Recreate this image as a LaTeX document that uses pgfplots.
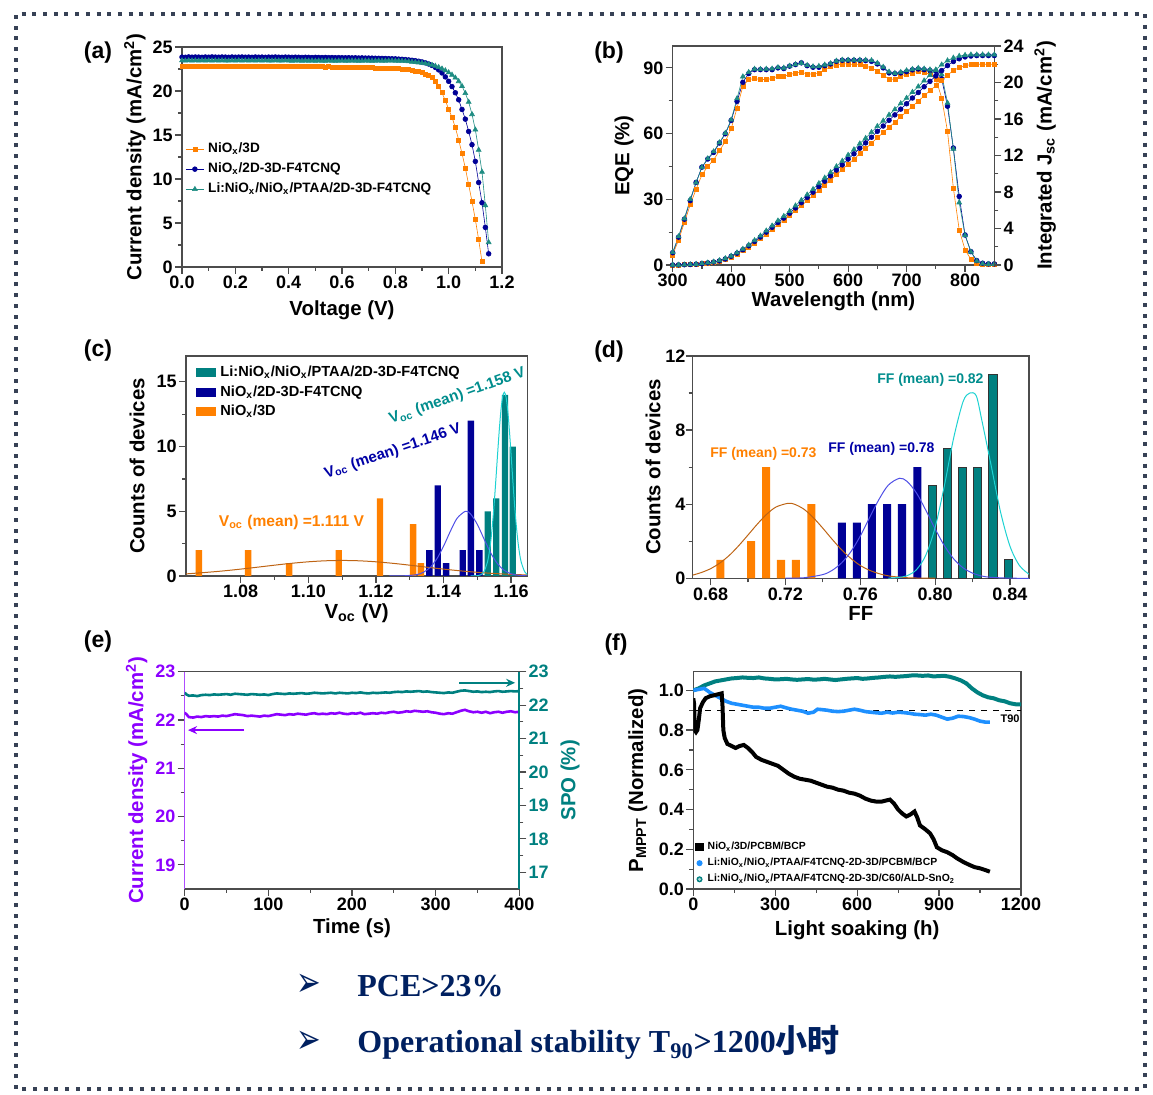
\documentclass[border=0pt]{standalone}
\usepackage{fontspec}
\setmainfont{Liberation Sans}
\newfontfamily\serifb{Liberation Serif}
\newfontfamily\cjk{Noto Sans CJK SC}
\newfontfamily\dejavu{DejaVu Sans}
\usepackage{pgfplots}
\usepackage{pgfplotstable}
\pgfplotsset{compat=1.18}
\usetikzlibrary{arrows.meta}

\definecolor{corange}{RGB}{255,128,0}
\definecolor{cnavy}{RGB}{0,0,150}
\definecolor{cteal}{RGB}{0,128,128}
\definecolor{ctealmk}{RGB}{30,140,130}
\definecolor{cbrown}{RGB}{190,100,20}
\definecolor{cblueline}{RGB}{80,80,230}
\definecolor{ccyan}{RGB}{30,210,210}
\definecolor{cpurple}{RGB}{140,0,255}
\definecolor{cblue}{RGB}{30,144,255}
\definecolor{cborder}{RGB}{55,65,85}
\definecolor{ctext}{RGB}{0,32,96}

\newcommand{\tsz}{\bfseries\fontsize{9}{10}\selectfont}
\newcommand{\lsz}{\bfseries\fontsize{10.2}{12}\selectfont}
\newcommand{\psz}{\bfseries\fontsize{11.5}{13}\selectfont}

\pgfplotsset{
  base/.style={scale only axis, anchor=south west,
    axis line style={black!70,line width=0.6pt},
    tick style={black!70,line width=0.6pt},
    tick align=outside, major tick length=3.5pt, minor tick length=2pt, minor tick num=1,
    tick label style={font=\tsz, inner sep=1pt}, label style={font=\lsz},
    /pgf/number format/assume math mode=true,
    /pgf/number format/set thousands separator={},
  },
  xlab/.style={xlabel style={at={(axis description cs:0.5,#1)}, anchor=center}},
  ylab/.style={ylabel style={at={(axis description cs:#1,0.5)}, anchor=center}},
  lmline/.style={legend image code/.code={\draw[mark repeat=2,mark phase=2,##1] plot coordinates {(0pt,0pt)(4.5pt,0pt)(9pt,0pt)};}},
}

\pgfplotstableread{
V O N T
0 22.80 23.85 23.46
0.0125 22.78 23.83 23.44
0.025 22.82 23.87 23.47
0.0375 22.80 23.84 23.45
0.05 22.79 23.86 23.46
0.0625 22.82 23.85 23.44
0.075 22.81 23.83 23.47
0.0875 22.79 23.86 23.45
0.1 22.82 23.84 23.46
0.1125 22.80 23.87 23.44
0.125 22.83 23.85 23.46
0.1375 22.81 23.84 23.45
0.15 22.79 23.86 23.47
0.1625 22.82 23.85 23.45
0.175 22.80 23.83 23.44
0.1875 22.81 23.86 23.46
0.2 22.79 23.84 23.45
0.2125 22.82 23.85 23.47
0.225 22.80 23.86 23.44
0.2375 22.78 23.84 23.46
0.25 22.81 23.85 23.45
0.2625 22.79 23.83 23.46
0.275 22.80 23.86 23.44
0.2875 22.82 23.84 23.46
0.3 22.79 23.85 23.45
0.3125 22.80 23.83 23.47
0.325 22.78 23.85 23.45
0.3375 22.81 23.84 23.44
0.35 22.80 23.86 23.46
0.3625 22.79 23.84 23.45
0.375 22.80 23.83 23.44
0.3875 22.78 23.85 23.46
0.4 22.79 23.84 23.45
0.4125 22.77 23.82 23.43
0.425 22.79 23.84 23.45
0.4375 22.78 23.83 23.44
0.45 22.76 23.81 23.43
0.4625 22.78 23.83 23.45
0.475 22.77 23.82 23.43
0.4875 22.76 23.80 23.44
0.5 22.77 23.82 23.42
0.5125 22.75 23.81 23.44
0.525 22.76 23.80 23.43
0.5375 22.74 23.81 23.42
0.55 22.75 23.79 23.44
0.5625 22.73 23.80 23.43
0.575 22.74 23.78 23.42
0.5875 22.72 23.79 23.43
0.6 22.73 23.78 23.44
0.6125 22.71 23.77 23.42
0.625 22.72 23.78 23.43
0.6375 22.70 23.76 23.44
0.65 22.70 23.77 23.43
0.6625 22.69 23.75 23.42
0.675 22.68 23.76 23.43
0.6875 22.67 23.74 23.44
0.7 22.66 23.74 23.43
0.7125 22.65 23.73 23.42
0.725 22.63 23.72 23.43
0.7375 22.62 23.71 23.44
0.75 22.61 23.70 23.43
0.7625 22.60 23.69 23.43
0.775 22.60 23.67 23.44
0.7875 22.59 23.66 23.44
0.8 22.58 23.65 23.43
0.8125 22.55 23.62 23.42
0.825 22.52 23.60 23.41
0.8375 22.47 23.57 23.38
0.85 22.42 23.53 23.35
0.8625 22.36 23.49 23.31
0.875 22.28 23.44 23.27
0.8875 22.20 23.38 23.23
0.9 22.10 23.30 23.18
0.9125 21.95 23.20 23.12
0.925 21.78 23.07 23.04
0.9375 21.50 22.90 22.95
0.95 21.05 22.68 22.84
0.9625 20.50 22.40 22.70
0.975 19.80 22.05 22.53
0.9875 18.90 21.60 22.33
1.0 17.95 21.10 22.10
1.0125 17.00 20.50 21.83
1.025 15.85 19.80 21.50
1.0375 14.45 19.00 21.10
1.05 12.90 17.90 20.55
1.0625 11.25 16.80 19.75
1.075 9.35 15.40 18.75
1.0875 7.45 13.90 17.35
1.1 5.40 12.00 15.60
1.1125 3.10 9.60 13.30
1.125 0.60 7.30 10.80
1.1375 nan 4.50 7.00
1.15 nan 1.50 2.80
}\jvtab

\pgfplotstableread{
wl eO eN eT jO jN jT
300 4.6 5.6 5.8 0 0 0
310 11.4 12.7 13.0 0.01 0.01 0.01
320 19.4 20.9 21.2 0.02 0.03 0.03
330 27.5 29.4 30.0 0.04 0.05 0.06
340 34.6 37.7 37.6 0.08 0.09 0.10
350 41.2 44.7 44.6 0.13 0.15 0.16
360 45.0 48.4 48.6 0.20 0.23 0.24
370 48.0 51.4 51.8 0.29 0.32 0.34
380 52.2 55.7 55.9 0.41 0.45 0.50
390 56.4 59.9 60.2 0.60 0.66 0.72
400 62.2 66.0 66.3 0.88 0.95 1.00
410 71.7 74.7 76.0 1.20 1.29 1.35
420 81.6 83.4 86.0 1.56 1.67 1.75
430 84.7 87.4 88.0 1.96 2.10 2.20
440 85.1 89.2 89.5 2.42 2.58 2.70
450 84.7 89.2 89.4 2.88 3.06 3.20
460 84.7 89.2 89.5 3.40 3.60 3.75
470 85.1 89.2 89.6 3.90 4.13 4.30
480 86.2 90.0 90.2 4.42 4.66 4.85
490 86.2 89.7 90.0 4.90 5.14 5.35
500 86.9 90.8 90.9 5.40 5.67 5.90
510 87.7 91.5 91.6 5.95 6.25 6.50
520 88.0 92.3 92.2 6.50 6.83 7.10
530 87.2 91.0 91.2 7.05 7.40 7.70
540 87.2 90.3 90.6 7.60 7.98 8.30
550 87.7 90.3 90.8 8.20 8.60 8.95
560 89.2 91.0 91.4 8.75 9.18 9.55
570 90.5 91.8 92.0 9.30 9.77 10.15
580 91.2 93.0 93.2 9.90 10.40 10.80
590 91.8 93.5 93.6 10.45 10.97 11.40
600 91.8 93.5 93.6 11.05 11.60 12.05
610 91.5 93.5 93.6 11.60 12.18 12.65
620 91.5 93.5 93.6 12.20 12.80 13.30
630 90.8 93.3 93.6 12.75 13.38 13.90
640 90.0 93.0 93.4 13.35 14.00 14.55
650 88.5 91.8 92.2 13.95 14.65 15.20
660 86.6 90.0 90.4 14.50 15.23 15.80
670 85.0 87.7 88.2 15.10 15.86 16.45
680 84.7 87.4 87.6 15.65 16.45 17.05
690 86.2 87.7 88.0 16.25 17.08 17.70
700 87.2 88.3 88.8 16.80 17.67 18.30
710 87.7 89.1 89.4 17.40 18.30 18.95
720 88.5 89.5 89.9 17.95 18.90 19.55
730 88.2 89.2 89.6 18.55 19.53 20.20
740 86.9 88.8 89.2 19.10 20.12 20.80
750 85.0 88.5 88.9 19.65 20.72 21.40
760 76.3 85.0 87.0 20.25 21.30 21.95
770 61.0 72.5 74.0 20.80 21.85 22.40
780 35.1 53.4 53.0 21.30 22.30 22.70
790 16.0 31.3 28.5 21.65 22.60 22.90
800 6.9 13.7 13.5 21.85 22.80 23.00
810 2.6 6.1 6.0 21.95 22.90 23.05
820 0.8 2.0 1.8 22.00 22.95 23.05
830 0.3 0.8 0.6 22.00 22.95 23.05
840 0.2 0.5 0.4 22.00 22.95 23.05
850 0.2 0.5 0.4 22.00 22.95 23.05
}\eqetab

\begin{document}
\begin{tikzpicture}
\path[use as bounding box] (0pt,0pt) rectangle (576.5pt,547.5pt);
\draw[cborder, line width=2pt, dash pattern=on 2pt off 3.35pt] (8pt,3pt) rectangle (572.5pt,540.5pt);

% ---------- (a)
\begin{axis}[base, at={(91pt,414pt)}, width=160pt, height=110pt,
  xmin=0, xmax=1.2, ymin=0, ymax=25,
  xtick={0,0.2,0.4,0.6,0.8,1.0,1.2}, ytick={0,5,10,15,20,25},
  xticklabel style={/pgf/number format/fixed,/pgf/number format/fixed zerofill,/pgf/number format/precision=1},
  xtick pos=left, ytick pos=left, xlab=-0.195, ylab=-0.147,
  xlabel={Voltage (V)}, ylabel={Current density (mA/cm\textsuperscript{2})},
  lmline, legend cell align=left,
  legend style={at={(0.01,0.585)}, anchor=north west, draw=none, fill=none,
    font=\bfseries\fontsize{6.8}{8}\selectfont, inner sep=0pt, row sep=-0.4pt}]
\addplot[corange, line width=0.3pt, mark=square*, mark size=1pt, mark options={solid}] table[x=V,y=O]{\jvtab};
\addlegendentry{NiO\textsubscript{x}/3D}
\addplot[cnavy, line width=0.3pt, mark=*, mark size=1.2pt] table[x=V,y=N]{\jvtab};
\addlegendentry{NiO\textsubscript{x}/2D-3D-F4TCNQ}
\addplot[ctealmk, line width=0.3pt, mark=triangle*, mark size=1.4pt] table[x=V,y=T]{\jvtab};
\addlegendentry{Li:NiO\textsubscript{x}/NiO\textsubscript{x}/PTAA/2D-3D-F4TCNQ}
\end{axis}

% ---------- (b)
\begin{axis}[base, at={(336.35pt,415pt)}, width=160.8pt, height=109.5pt,
  xmin=300, xmax=850, ymin=0, ymax=100,
  xtick={300,400,500,600,700,800}, ytick={0,30,60,90},
  xtick pos=left, ytick pos=left, xlab=-0.167, ylab=-0.151,
  xlabel={Wavelength (nm)}, ylabel={EQE (\%)}]
\addplot[corange, line width=0.3pt, mark=square*, mark size=1pt] table[x=wl,y=eO]{\eqetab};
\addplot[cnavy, line width=0.3pt, mark=*, mark size=1.2pt] table[x=wl,y=eN]{\eqetab};
\addplot[ctealmk, line width=0.3pt, mark=triangle*, mark size=1.4pt] table[x=wl,y=eT]{\eqetab};
\end{axis}
\begin{axis}[base, at={(336.35pt,415pt)}, width=160.8pt, height=109.5pt,
  xmin=300, xmax=850, ymin=0, ymax=24, hide x axis,
  axis y line*=right, ytick={0,4,8,12,16,20,24}, ylab=1.158,
  ylabel={Integrated J\textsubscript{sc} (mA/cm\textsuperscript{2})}]
\addplot[corange, line width=0.3pt, mark=square*, mark size=1pt] table[x=wl,y=jO]{\eqetab};
\addplot[cnavy, line width=0.3pt, mark=*, mark size=1.2pt] table[x=wl,y=jN]{\eqetab};
\addplot[ctealmk, line width=0.3pt, mark=triangle*, mark size=1.4pt] table[x=wl,y=jT]{\eqetab};
\end{axis}

% ---------- (c)
\begin{axis}[base, at={(93pt,259.5pt)}, width=170.65pt, height=110pt,
  xmin=1.0638, xmax=1.1648, ymin=0, ymax=17,
  xtick={1.08,1.10,1.12,1.14,1.16}, ytick={0,5,10,15},
  xticklabel style={/pgf/number format/fixed,/pgf/number format/fixed zerofill,/pgf/number format/precision=2},
  xtick pos=left, ytick pos=left, xlab=-0.168, ylab=-0.1436,
  xlabel={V\textsubscript{oc} (V)}, ylabel={Counts of devices},
  reverse legend, legend cell align=left,
  legend style={at={(0.027,0.975)}, anchor=north west, draw=none, fill=none,
    font=\bfseries\fontsize{7.3}{8.5}\selectfont, inner sep=0pt, row sep=-1pt}]
\addplot[ybar, bar width=0.0019, bar shift=0pt, fill=corange, draw=none,
  legend image code/.code={\fill[corange] (0pt,-2.2pt) rectangle (10.4pt,2.2pt);}]
  coordinates {(1.0676,2)(1.0822,2)(1.0943,1)(1.1090,2)(1.1212,6)(1.1310,4)(1.1333,1)};
\addlegendentry{NiO\textsubscript{x}/3D}
\addplot[ybar, bar width=0.0019, bar shift=0pt, fill=cnavy, draw=none,
  legend image code/.code={\fill[cnavy] (0pt,-2.2pt) rectangle (10.4pt,2.2pt);}]
  coordinates {(1.1358,2)(1.1383,7)(1.1408,1)(1.1457,2)(1.1481,12)(1.1506,2)};
\addlegendentry{NiO\textsubscript{x}/2D-3D-F4TCNQ}
\addplot[ybar, bar width=0.0019, bar shift=0pt, fill=cteal, draw=none,
  legend image code/.code={\fill[cteal] (0pt,-2.2pt) rectangle (10.4pt,2.2pt);}]
  coordinates {(1.1531,5)(1.1556,6)(1.1582,14)(1.1605,10)};
\addlegendentry{Li:NiO\textsubscript{x}/NiO\textsubscript{x}/PTAA/2D-3D-F4TCNQ}
\addplot[cbrown, line width=0.5pt, smooth, forget plot] coordinates {
(1.0638,0.16)(1.070,0.282)(1.075,0.396)(1.080,0.531)(1.085,0.681)(1.090,0.835)(1.095,0.979)(1.100,1.096)(1.105,1.173)(1.110,1.2)(1.115,1.173)(1.120,1.096)(1.125,0.979)(1.130,0.835)(1.135,0.681)(1.140,0.531)(1.145,0.396)(1.150,0.282)(1.155,0.192)(1.160,0.125)(1.1648,0.079)};
\addplot[cblueline, line width=0.5pt, smooth, forget plot] coordinates {
(1.124,0)(1.128,0.009)(1.132,0.10)(1.134,0.28)(1.136,0.65)(1.138,1.31)(1.140,2.29)(1.142,3.44)(1.144,4.45)(1.1465,5.0)(1.148,4.80)(1.150,3.99)(1.152,2.86)(1.154,1.77)(1.156,0.94)(1.158,0.43)(1.160,0.17)(1.162,0.06)(1.1648,0.01)};
\addplot[ccyan, line width=0.5pt, smooth, forget plot] coordinates {
(1.148,0)(1.150,0.02)(1.151,0.09)(1.152,0.34)(1.153,1.07)(1.1535,1.75)(1.154,2.72)(1.1545,4.01)(1.155,5.60)(1.1555,7.45)(1.156,9.39)(1.1565,11.25)(1.157,12.81)(1.1575,13.84)(1.158,14.2)(1.1585,13.84)(1.159,12.81)(1.1595,11.25)(1.160,9.39)(1.1605,7.45)(1.161,5.60)(1.1615,4.01)(1.162,2.72)(1.1625,1.75)(1.163,1.07)(1.164,0.34)(1.1648,0.12)};
\node[text=corange, font=\bfseries\fontsize{7.8}{9}\selectfont] at (axis cs:1.095,4.17) {V\textsubscript{oc} (mean) =1.111 V};
\node[text=cnavy!85!blue, font=\bfseries\fontsize{7.6}{9}\selectfont, rotate=18.6] at (axis cs:1.1250,9.6) {V\textsubscript{oc} (mean) =1.146 V};
\node[text=cteal!90!cyan, font=\bfseries\fontsize{7.6}{9}\selectfont, rotate=19.5] at (axis cs:1.1441,13.9) {V\textsubscript{oc} (mean) =1.158 V};
\end{axis}

% ---------- (d)
\begin{axis}[base, at={(346.35pt,258.35pt)}, width=168.15pt, height=111.15pt,
  xmin=0.6704, xmax=0.8502, ymin=0, ymax=12,
  xtick={0.68,0.72,0.76,0.80,0.84}, ytick={0,4,8,12},
  xticklabel style={/pgf/number format/fixed,/pgf/number format/fixed zerofill,/pgf/number format/precision=2},
  yticklabel style={inner sep=0pt},
  xtick pos=left, ytick pos=left, xlab=-0.158, ylab=-0.118,
  xlabel={FF}, ylabel={Counts of devices}]
\addplot[ybar, bar width=0.0043, bar shift=0pt, fill=corange, draw=none]
  coordinates {(0.6852,1)(0.7016,2)(0.7096,6)(0.7176,1)(0.7256,1)(0.7338,4)};
\addplot[ybar, bar width=0.0043, bar shift=0pt, fill=cnavy, draw=none]
  coordinates {(0.7502,3)(0.7582,3)(0.7662,4)(0.7743,4)(0.7823,4)(0.7905,6)};
\addplot[ybar, bar width=0.0043, bar shift=0pt, fill=cteal, draw=black!80, line width=0.4pt]
  coordinates {(0.7985,5)(0.8065,7)(0.8147,6)(0.8227,6)(0.8309,11)(0.8391,1)};
\addplot[cbrown, line width=0.5pt, smooth] coordinates {
(0.6704,0.17)(0.675,0.31)(0.680,0.52)(0.685,0.83)(0.690,1.24)(0.695,1.76)(0.700,2.34)(0.705,2.93)(0.710,3.46)(0.715,3.85)(0.7215,4.05)(0.725,3.99)(0.730,3.72)(0.735,3.26)(0.740,2.70)(0.745,2.10)(0.750,1.54)(0.755,1.07)(0.760,0.69)(0.765,0.43)(0.770,0.25)(0.775,0.13)(0.780,0.07)(0.785,0.03)(0.790,0.015)(0.800,0.002)};
\addplot[cblueline, line width=0.5pt, smooth] coordinates {
(0.720,0.004)(0.730,0.03)(0.740,0.20)(0.745,0.43)(0.750,0.83)(0.755,1.44)(0.760,2.28)(0.765,3.28)(0.770,4.26)(0.775,5.03)(0.781,5.4)(0.785,5.23)(0.790,4.61)(0.795,3.68)(0.800,2.67)(0.805,1.75)(0.810,1.04)(0.815,0.56)(0.820,0.28)(0.825,0.12)(0.830,0.05)(0.840,0.006)(0.8502,0)};
\addplot[ccyan, line width=0.5pt, smooth] coordinates {
(0.775,0.01)(0.780,0.04)(0.785,0.14)(0.790,0.46)(0.795,1.24)(0.800,2.74)(0.805,5.02)(0.810,7.61)(0.815,9.55)(0.8185,10)(0.822,9.85)(0.825,8.52)(0.830,6.07)(0.835,3.57)(0.840,1.74)(0.845,0.70)(0.8502,0.22)};
\node[text=corange, font=\bfseries\fontsize{7}{8}\selectfont] at (axis cs:0.7082,6.69) {FF (mean) =0.73};
\node[text=cnavy!85!blue, font=\bfseries\fontsize{7}{8}\selectfont] at (axis cs:0.7713,6.98) {FF (mean) =0.78};
\node[text=cteal!90!cyan, font=\bfseries\fontsize{7}{8}\selectfont] at (axis cs:0.7975,10.7) {FF (mean) =0.82};
\end{axis}

% ---------- (e)
\begin{axis}[base, at={(92.35pt,103pt)}, width=167.3pt, height=108.65pt,
  xmin=0, xmax=400, ymin=18.5, ymax=23,
  xtick={0,100,200,300,400}, ytick={19,20,21,22,23},
  axis x line*=box, axis y line*=left, xtick pos=left,
  y axis line style={cpurple!70, line width=0.8pt},
  yticklabel style={text=cpurple}, ylabel style={text=cpurple},
  xlab=-0.18, ylab=-0.1435,
  xlabel={Time (s)}, ylabel={Current density (mA/cm\textsuperscript{2})}]
\addplot[cpurple, line width=1.3pt] coordinates {
(0,22.15)(2,22.12)(5,22.06)(10,22.05)(15,22.07)(20,22.06)(25,22.08)(30,22.07)(35,22.08)(40,22.07)(45,22.09)(50,22.08)(55,22.10)(60,22.12)(65,22.11)(70,22.10)(75,22.08)(80,22.09)(85,22.08)(90,22.07)(95,22.09)(100,22.08)(105,22.10)(110,22.12)(115,22.11)(120,22.10)(125,22.12)(130,22.11)(135,22.13)(140,22.12)(145,22.11)(150,22.13)(155,22.14)(160,22.12)(165,22.13)(170,22.12)(175,22.14)(180,22.13)(185,22.15)(190,22.13)(195,22.12)(200,22.14)(205,22.13)(210,22.15)(215,22.12)(220,22.13)(225,22.14)(230,22.13)(235,22.15)(240,22.14)(245,22.16)(250,22.17)(255,22.15)(260,22.16)(265,22.18)(270,22.17)(275,22.19)(280,22.18)(285,22.17)(290,22.18)(295,22.16)(300,22.15)(305,22.13)(310,22.12)(315,22.14)(320,22.13)(325,22.16)(330,22.19)(335,22.21)(340,22.18)(345,22.16)(350,22.17)(355,22.15)(360,22.17)(365,22.14)(370,22.16)(375,22.17)(380,22.15)(385,22.17)(390,22.18)(395,22.16)(400,22.17)};
\draw[cpurple, line width=1pt, -{Stealth[length=4.5pt,width=4pt]}] (axis cs:71,21.79) -- (axis cs:4,21.79);
\draw[cteal, line width=1pt, -{Stealth[length=4.5pt,width=4pt]}] (axis cs:328,22.77) -- (axis cs:395,22.77);
\end{axis}
\begin{axis}[base, at={(92.35pt,103pt)}, width=167.3pt, height=108.65pt,
  xmin=0, xmax=400, ymin=16.5, ymax=23, hide x axis,
  axis y line*=right, ytick={17,18,19,20,21,22,23},
  y axis line style={cteal, line width=0.8pt},
  yticklabel style={text=cteal}, ylabel style={text=cteal}, ylab=1.1515,
  ylabel={SPO (\%)}]
\addplot[cteal, line width=1.3pt] coordinates {
(0,22.37)(2,22.32)(5,22.28)(10,22.29)(15,22.27)(20,22.30)(25,22.31)(30,22.30)(35,22.32)(40,22.31)(45,22.32)(50,22.33)(55,22.31)(60,22.34)(65,22.33)(70,22.32)(75,22.31)(80,22.33)(85,22.32)(90,22.31)(95,22.32)(100,22.30)(105,22.33)(110,22.35)(115,22.34)(120,22.33)(125,22.35)(130,22.34)(135,22.35)(140,22.36)(145,22.34)(150,22.35)(155,22.37)(160,22.36)(165,22.35)(170,22.36)(175,22.37)(180,22.35)(185,22.37)(190,22.36)(195,22.35)(200,22.37)(205,22.36)(210,22.38)(215,22.36)(220,22.35)(225,22.37)(230,22.36)(235,22.37)(240,22.38)(245,22.37)(250,22.39)(255,22.40)(260,22.39)(265,22.41)(270,22.40)(275,22.41)(280,22.42)(285,22.40)(290,22.41)(295,22.39)(300,22.38)(305,22.37)(310,22.36)(315,22.38)(320,22.37)(325,22.40)(330,22.43)(335,22.44)(340,22.42)(345,22.40)(350,22.41)(355,22.39)(360,22.40)(365,22.39)(370,22.41)(375,22.42)(380,22.40)(385,22.41)(390,22.42)(395,22.41)(400,22.42)};
\end{axis}

% ---------- (f)
\begin{axis}[base, at={(346.65pt,103pt)}, width=163.85pt, height=108.65pt,
  xmin=0, xmax=1200, ymin=0, ymax=1.094,
  xtick={0,300,600,900,1200}, ytick={0,0.2,0.4,0.6,0.8,1.0},
  yticklabel style={/pgf/number format/fixed,/pgf/number format/fixed zerofill,/pgf/number format/precision=1},
  xtick pos=left, ytick pos=left, xlab=-0.19, ylab=-0.169,
  xlabel={Light soaking (h)}, ylabel={P\textsubscript{MPPT} (Normalized)},
  legend cell align=left,
  legend style={at={(0.005,0.0)}, anchor=south west, draw=none, fill=none,
    font=\bfseries\fontsize{5.2}{6}\selectfont, inner sep=0pt, row sep=-1.2pt}]
\addplot[black, dashed, line width=0.5pt, forget plot] coordinates {(0,0.9)(1200,0.9)};
\addplot[cteal, line width=2pt, forget plot] coordinates {
(0,1.0)(20,1.01)(40,1.025)(60,1.035)(80,1.045)(100,1.05)(120,1.055)(140,1.06)(160,1.062)(180,1.065)(200,1.063)(220,1.062)(240,1.065)(260,1.06)(280,1.058)(300,1.055)(320,1.056)(340,1.058)(360,1.055)(380,1.053)(400,1.055)(420,1.057)(440,1.054)(460,1.055)(480,1.058)(500,1.055)(520,1.052)(540,1.055)(560,1.058)(580,1.06)(600,1.062)(620,1.058)(640,1.06)(660,1.063)(680,1.065)(700,1.068)(720,1.07)(740,1.068)(760,1.07)(780,1.072)(800,1.075)(820,1.075)(840,1.073)(860,1.075)(880,1.07)(900,1.072)(920,1.073)(940,1.068)(960,1.06)(980,1.05)(1000,1.035)(1020,1.01)(1040,0.99)(1060,0.975)(1080,0.965)(1100,0.96)(1120,0.95)(1140,0.945)(1160,0.935)(1180,0.93)(1200,0.93)};
\addplot[cblue, line width=1.8pt, forget plot] coordinates {
(0,1.0)(20,1.005)(40,1.01)(60,0.99)(80,0.975)(100,0.96)(120,0.945)(140,0.935)(160,0.93)(180,0.925)(200,0.92)(220,0.915)(240,0.915)(260,0.91)(280,0.91)(300,0.915)(320,0.92)(340,0.912)(360,0.905)(380,0.9)(400,0.895)(420,0.885)(440,0.89)(455,0.905)(470,0.903)(490,0.9)(510,0.895)(530,0.893)(550,0.895)(570,0.9)(590,0.905)(610,0.9)(630,0.893)(650,0.89)(670,0.887)(690,0.885)(710,0.89)(730,0.886)(750,0.89)(770,0.888)(790,0.885)(810,0.88)(830,0.878)(850,0.875)(870,0.88)(890,0.875)(910,0.865)(930,0.855)(950,0.86)(970,0.87)(990,0.868)(1010,0.863)(1030,0.855)(1050,0.845)(1070,0.84)(1086,0.84)};
\addplot[black, line width=2pt,
  legend image code/.code={\fill[black] (-1.1pt,-1.1pt) rectangle (1.1pt,1.1pt);}] coordinates {
(0,0.96)(3,0.93)(5,0.80)(10,0.79)(15,0.80)(20,0.85)(25,0.91)(35,0.94)(45,0.96)(60,0.97)(75,0.975)(90,0.98)(104,0.985)(107,0.92)(110,0.80)(115,0.76)(125,0.73)(140,0.72)(155,0.71)(170,0.72)(185,0.725)(200,0.71)(215,0.69)(230,0.665)(250,0.65)(270,0.64)(290,0.63)(310,0.62)(330,0.6)(350,0.58)(370,0.565)(390,0.555)(410,0.55)(430,0.545)(450,0.535)(470,0.525)(490,0.515)(510,0.51)(530,0.5)(550,0.495)(570,0.485)(590,0.48)(610,0.47)(630,0.455)(650,0.445)(670,0.44)(690,0.44)(705,0.445)(720,0.45)(735,0.43)(750,0.40)(765,0.38)(780,0.365)(795,0.375)(810,0.39)(820,0.36)(830,0.32)(850,0.30)(867,0.28)(880,0.25)(892,0.21)(910,0.195)(930,0.185)(950,0.17)(965,0.155)(990,0.135)(1013,0.12)(1030,0.11)(1050,0.104)(1070,0.095)(1086,0.087)};
\addlegendentry{NiO\textsubscript{x}/3D/PCBM/BCP}
\addlegendimage{legend image code/.code={\fill[cblue] (0pt,0pt) circle (1.3pt);}}
\addlegendentry{Li:NiO\textsubscript{x}/NiO\textsubscript{x}/PTAA/F4TCNQ-2D-3D/PCBM/BCP}
\addlegendimage{legend image code/.code={\fill[cteal] (0pt,0pt) circle (1.3pt); \fill[cteal!35] (0pt,0pt) circle (0.55pt);}}
\addlegendentry{Li:NiO\textsubscript{x}/NiO\textsubscript{x}/PTAA/F4TCNQ-2D-3D/C60/ALD-SnO\textsubscript{2}}
\node[font=\bfseries\fontsize{5.5}{6}\selectfont] at (axis cs:1160,0.856) {T90};
\end{axis}

% panel labels
\node[font=\psz] at (49pt,521pt) {(a)};
\node[font=\psz] at (304.5pt,521pt) {(b)};
\node[font=\psz] at (49pt,372pt) {(c)};
\node[font=\psz] at (304.5pt,371.5pt) {(d)};
\node[font=\psz] at (49pt,226.5pt) {(e)};
\node[font=\psz] at (308pt,225pt) {(f)};

% bottom text
\node[text=ctext, font=\dejavu\fontsize{21}{24}\selectfont, xscale=0.7] at (154.5pt,55pt) {➢};
\node[text=ctext, font=\dejavu\fontsize{21}{24}\selectfont, xscale=0.7] at (154.5pt,26.5pt) {➢};
\node[anchor=base west, inner sep=0pt, text=ctext, font=\serifb\bfseries\fontsize{16}{18}\selectfont] at (178.5pt,49pt) {PCE>23\%};
\node[anchor=base west, inner sep=0pt, text=ctext, font=\serifb\bfseries\fontsize{16}{18}\selectfont] at (178.5pt,21pt) {Operational stability T\textsubscript{90}>1200{\cjk\bfseries 小时}};
\end{tikzpicture}
\end{document}
